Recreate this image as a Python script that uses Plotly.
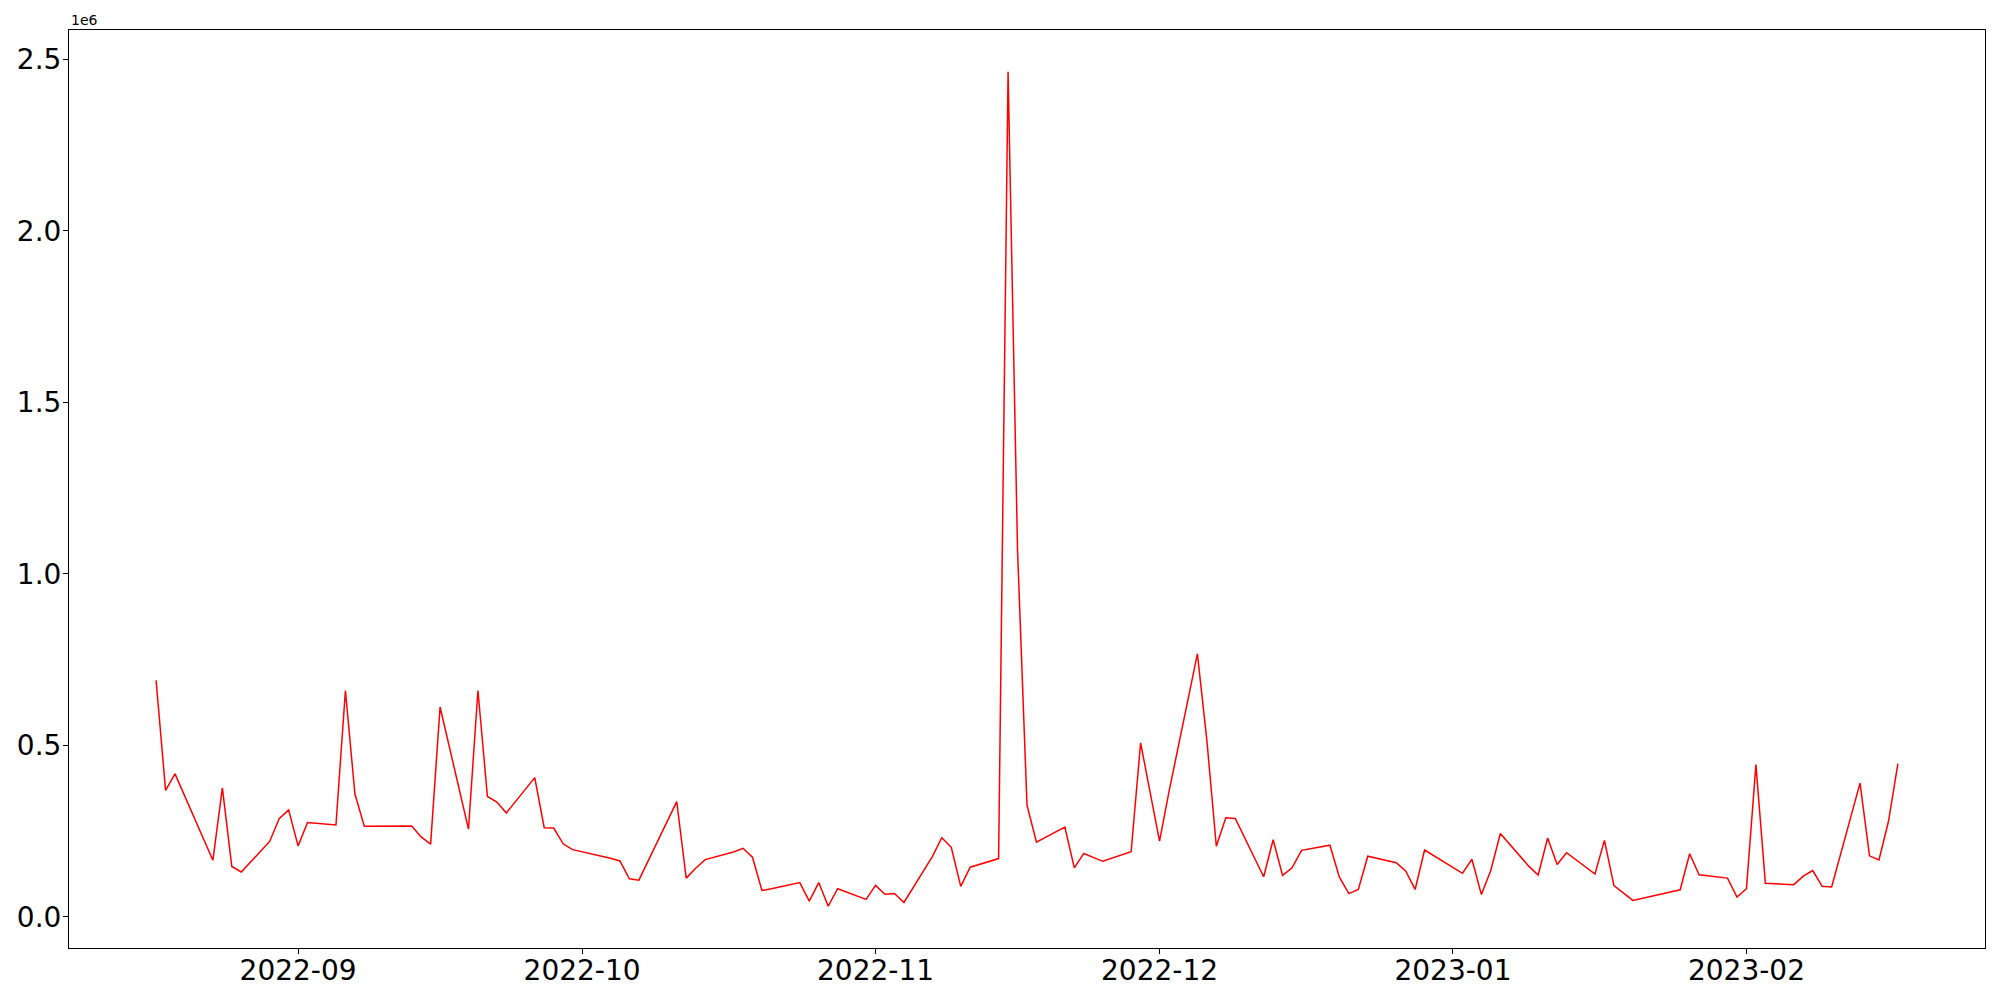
import plotly.graph_objects as go

dates = [
    "2022-08-17", "2022-08-18", "2022-08-19", "2022-08-23", "2022-08-24", "2022-08-25", "2022-08-26",
    "2022-08-29", "2022-08-30", "2022-08-31", "2022-09-01", "2022-09-02",
    "2022-09-05", "2022-09-06", "2022-09-07", "2022-09-08",
    "2022-09-13", "2022-09-14", "2022-09-15", "2022-09-16",
    "2022-09-19", "2022-09-20", "2022-09-21", "2022-09-22", "2022-09-23",
    "2022-09-26", "2022-09-27", "2022-09-28", "2022-09-29", "2022-09-30",
    "2022-10-04", "2022-10-05", "2022-10-06", "2022-10-07",
    "2022-10-11", "2022-10-12", "2022-10-13", "2022-10-14",
    "2022-10-17", "2022-10-18", "2022-10-19", "2022-10-20", "2022-10-21",
    "2022-10-24", "2022-10-25", "2022-10-26", "2022-10-27", "2022-10-28",
    "2022-10-31", "2022-11-01", "2022-11-02", "2022-11-03", "2022-11-04",
    "2022-11-07", "2022-11-08", "2022-11-09", "2022-11-10", "2022-11-11",
    "2022-11-14", "2022-11-15", "2022-11-16", "2022-11-17", "2022-11-18",
    "2022-11-21", "2022-11-22", "2022-11-23", "2022-11-25",
    "2022-11-28", "2022-11-29", "2022-11-30", "2022-12-01", "2022-12-02",
    "2022-12-05", "2022-12-06", "2022-12-07", "2022-12-08", "2022-12-09",
    "2022-12-12", "2022-12-13", "2022-12-14", "2022-12-15", "2022-12-16",
    "2022-12-19", "2022-12-20", "2022-12-21", "2022-12-22", "2022-12-23",
    "2022-12-26", "2022-12-27", "2022-12-28", "2022-12-29",
    "2023-01-02", "2023-01-03", "2023-01-04", "2023-01-05", "2023-01-06",
    "2023-01-09", "2023-01-10", "2023-01-11", "2023-01-12", "2023-01-13",
    "2023-01-16", "2023-01-17", "2023-01-18", "2023-01-20",
    "2023-01-25", "2023-01-26", "2023-01-27",
    "2023-01-30", "2023-01-31", "2023-02-01", "2023-02-02", "2023-02-03",
    "2023-02-06", "2023-02-07", "2023-02-08", "2023-02-09", "2023-02-10",
    "2023-02-13", "2023-02-14", "2023-02-15", "2023-02-16", "2023-02-17",
]

values = [
    690000, 369000, 417000, 165000, 376000, 147000, 131000,
    220000, 286000, 312000, 207000, 275000,
    268000, 660000, 359000, 264000,
    265000, 233000, 212000, 612000,
    256000, 660000, 351000, 335000, 303000,
    406000, 260000, 259000, 213000, 196000,
    171000, 163000, 111000, 107000,
    336000, 113000, 142000, 167000,
    189000, 200000, 174000, 77000, 82000,
    100000, 46000, 100000, 31000, 82000,
    51000, 92000, 66000, 68000, 42000,
    176000, 231000, 203000, 89000, 145000,
    170000, 2464000, 1070000, 326000, 218000,
    262000, 143000, 185000, 162000,
    190000, 507000, 364000, 221000, 365000,
    767000, 515000, 206000, 289000, 287000,
    117000, 225000, 121000, 143000, 194000,
    209000, 116000, 68000, 80000, 177000,
    158000, 134000, 80000, 195000,
    127000, 168000, 65000, 136000, 243000,
    148000, 122000, 230000, 153000, 187000,
    125000, 223000, 91000, 48000,
    79000, 184000, 123000,
    113000, 58000, 82000, 444000, 98000,
    94000, 119000, 135000, 89000, 87000,
    390000, 178000, 166000, 278000, 447000,
]

x_tick_vals = ["2022-09-01", "2022-10-01", "2022-11-01", "2022-12-01", "2023-01-01", "2023-02-01"]
x_tick_text = ["2022-09", "2022-10", "2022-11", "2022-12", "2023-01", "2023-02"]
y_tick_vals = [0, 500000, 1000000, 1500000, 2000000, 2500000]
y_tick_text = ["0.0", "0.5", "1.0", "1.5", "2.0", "2.5"]

FONT = "DejaVu Sans"

fig = go.Figure()
fig.add_trace(go.Scatter(
    x=dates, y=values, mode="lines",
    line=dict(color="#ff0000", width=1.5),
    showlegend=False,
))

axis_common = dict(
    showline=True, linecolor="black", linewidth=1, mirror=True,
    ticks="outside", ticklen=5, tickwidth=1, tickcolor="black",
    showgrid=False, zeroline=False, automargin=False,
    tickfont=dict(family=FONT, size=28, color="black"),
)

fig.update_layout(
    width=2000, height=1000,
    margin=dict(l=69, r=15, t=30, b=52),
    paper_bgcolor="white", plot_bgcolor="white",
    xaxis=dict(
        type="date",
        range=["2022-08-07 19:12", "2023-02-26 04:48"],
        tickmode="array", tickvals=x_tick_vals, ticktext=x_tick_text,
        ticklabelstandoff=-8,
        **axis_common,
    ),
    yaxis=dict(
        range=[-90700, 2585700],
        tickmode="array", tickvals=y_tick_vals, ticktext=y_tick_text,
        ticklabelstandoff=-4,
        **axis_common,
    ),
    annotations=[dict(
        text="1e6", xref="paper", yref="paper", x=0, y=1,
        xanchor="left", yanchor="bottom", showarrow=False,
        font=dict(family=FONT, size=14, color="black"),
    )],
)

fig.write_html(
    "out.html",
    config={"displayModeBar": False},
    post_script="document.body.style.margin='0';document.body.style.overflow='hidden';",
)
